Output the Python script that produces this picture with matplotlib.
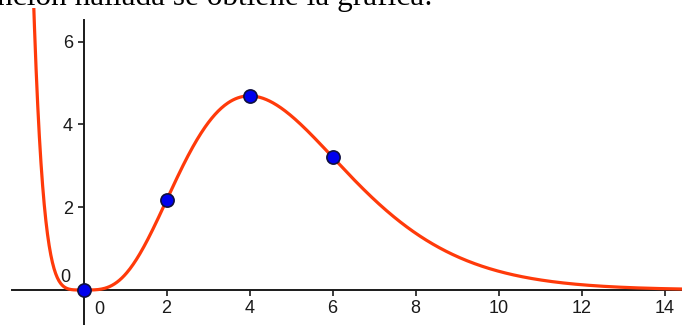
import numpy as np
import matplotlib
matplotlib.use("Agg")
import matplotlib.pyplot as plt

# Marked points of the function graph
point_x = [0, 2, 4, 6]
point_y = [0.0, 2.165, 4.689, 3.212]

# Tick labels
x_ticks = [2, 4, 6, 8, 10, 12, 14]
y_ticks = [2, 4, 6]

# Plotted function: f(x) = x^4 * e^(-x)
def f(x):
    return x**4 * np.exp(-x)

W, H = 682, 325
fig = plt.figure(figsize=(W / 100, H / 100), dpi=100)
ax = fig.add_axes([0, 0, 1, 1 - 8 / H])

sx = 41.5   # px per unit x
sy = 41.4   # px per unit y
x0_px, y0_px = 83.5, 290
xmin = -x0_px / sx
xmax = (W - x0_px) / sx
ymin = -(H - y0_px) / sy
ymax = (y0_px - 8) / sy
ax.set_xlim(xmin, xmax)
ax.set_ylim(ymin, ymax)

for s in ["top", "right"]:
    ax.spines[s].set_visible(False)
ax.spines["left"].set_position(("data", 0))
ax.spines["bottom"].set_position(("data", 0))
ax.spines["left"].set_bounds(ymin, (y0_px - 20) / sy)
ax.spines["bottom"].set_bounds((12 - x0_px) / sx, xmax)
for s in ["left", "bottom"]:
    ax.spines[s].set_linewidth(1.4)
    ax.spines[s].set_color("#1a1a1a")

ax.set_xticks(x_ticks)
ax.set_yticks(y_ticks)
ax.tick_params(axis="both", direction="out", length=4.5, width=1.2,
               colors="#1a1a1a", labelsize=13, pad=3)
for lab in ax.get_xticklabels() + ax.get_yticklabels():
    lab.set_fontfamily("Liberation Sans")
    lab.set_color("#1a1a1a")

# zero labels
ax.text(0.39, -0.47, "0", ha="center", va="center", fontsize=13,
        family="Liberation Sans", color="#1a1a1a")
ax.text(-0.45, 0.31, "0", ha="center", va="center", fontsize=13,
        family="Liberation Sans", color="#1a1a1a")

xs = np.linspace(-1.3, xmax, 800)
ax.plot(xs, f(xs), color="#ff3a0a", lw=2.3, solid_capstyle="round", zorder=3)
ax.plot(point_x, point_y, "o", ms=9.5, mfc="#0000ee", mec="#101040", mew=1.2,
        zorder=5, clip_on=False)

fig.text(-3 / W, 1 - 5 / H, "nción hallada se obtiene la gráfica:",
         family="Liberation Serif", fontsize=22.5, ha="left", va="baseline",
         color="black")

fig.savefig("out.png", dpi=100)
